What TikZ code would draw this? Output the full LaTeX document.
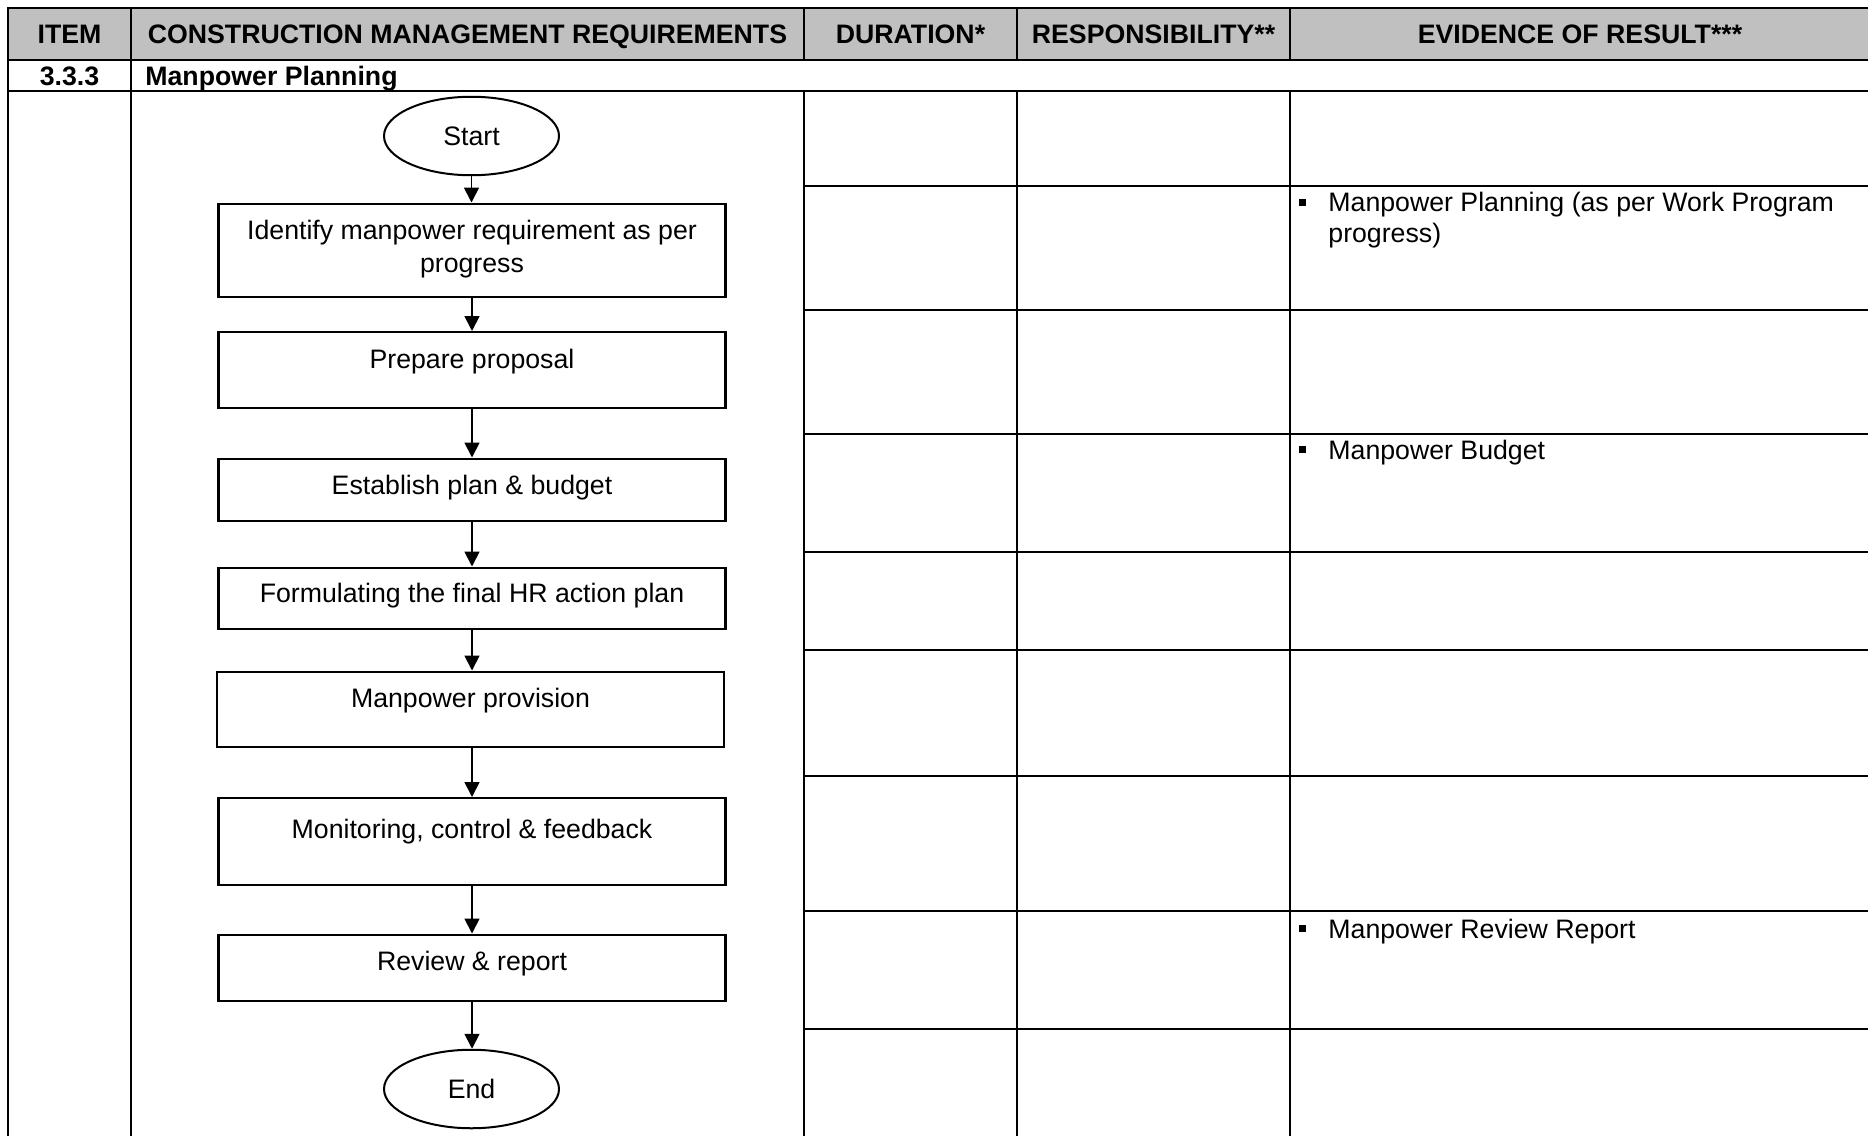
\documentclass[tikz,border=0pt]{standalone}
\usepackage{fontspec}
\setmainfont{Liberation Sans}
\usetikzlibrary{shapes.geometric,arrows.meta}
\definecolor{hdrgray}{HTML}{C0C0C0}
\newcommand{\fs}{\fontsize{13.35pt}{16.5pt}\selectfont}
\newcommand{\fsb}{\fontsize{13.35pt}{16.5pt}\selectfont\bfseries}
\newcommand{\evbul}{\makebox[14.5pt][l]{\raisebox{3pt}{\rule{3.5pt}{3.5pt}}}}
\tikzset{
  tline/.style={line width=1.25pt, line cap=rect},
  flowbox/.style={draw, line width=1.15pt, minimum width=253.5pt, inner xsep=0pt, inner ysep=0pt, anchor=north, font=\fs},
  term/.style={draw, ellipse, line width=1pt, minimum width=87.5pt, minimum height=39.25pt, inner sep=0pt, font=\fs},
  flow/.style={-{Triangle[width=7.5pt,length=7.5pt]}, line width=0.9pt},
  hdr/.style={font=\fsb, anchor=base, inner sep=0pt},
  evid/.style={font=\fs, anchor=base west, inner sep=0pt},
}
\begin{document}
\begin{tikzpicture}[x=0.5pt,y=-0.5pt]
\useasboundingbox (0,0) rectangle (1868,1135);
% header fill
\fill[hdrgray] (8,8) rectangle (1868,60);
% table lines
\draw[tline] (1868,8) -- (8,8) -- (8,1135);
\draw[tline] (8,60) -- (1868,60);
\draw[tline] (8,91) -- (1868,91);
\draw[tline] (131,8) -- (131,1135);
\foreach \cx in {804,1017,1290}{
  \draw[tline] (\cx,8) -- (\cx,60);
  \draw[tline] (\cx,91) -- (\cx,1135);
}
\foreach \ry in {186,310,434,552,650,776,911,1029}{
  \draw[tline] (804,\ry) -- (1868,\ry);
}
% header texts
\node[hdr] (hitem) at (69.5,43.5) {ITEM};
\node[hdr] (hcmr) at (467.5,43.5) {CONSTRUCTION MANAGEMENT REQUIREMENTS};
\node[hdr] (hdur) at (910.5,43.5) {DURATION*};
\node[hdr] (hresp) at (1153.5,43.5) {RESPONSIBILITY**};
\node[hdr] (hevid) at (1580,43.5) {EVIDENCE OF RESULT***};
\node[hdr] (inum) at (69.5,85) {3.3.3};
\node[hdr, anchor=base west] (ititle) at (145,85) {Manpower Planning};
% flowchart
\node[term] (start) at (471.5,136) {Start};
\node[flowbox, text height=18.05pt, text depth=28.45pt] (b1) at (472,202.5)
  {\parbox[t]{245pt}{\centering Identify manpower requirement as per\\ progress}};
\node[flowbox, text height=18.1pt, text depth=19.65pt] (b2) at (472,331) {Prepare proposal};
\node[flowbox, text height=17.8pt, text depth=13.2pt] (b3) at (472,457.5) {Establish plan \& budget};
\node[flowbox, text height=17.55pt, text depth=12.95pt] (b4) at (472,566.5) {Formulating the final HR action plan};
\node[flowbox, text height=18.05pt, text depth=19.7pt] (b5) at (470.5,670.5) {Manpower provision};
\node[flowbox, text height=20.3pt, text depth=23.2pt] (b6) at (472,797) {Monitoring, control \& feedback};
\node[flowbox, text height=18.05pt, text depth=15.2pt] (b7) at (472,933.5) {Review \& report};
\node[term] (end) at (471.5,1089) {End};
\draw[flow] (start.south) -- (start.south |- b1.north);
\draw[flow] (b1.south) -- (b1.south |- b2.north);
\draw[flow] (b2.south) -- (b2.south |- b3.north);
\draw[flow] (b3.south) -- (b3.south |- b4.north);
\draw[flow] (b4.south) -- (b4.south |- b5.north);
\draw[flow] (b5.south -| b6.north) -- (b6.north);
\draw[flow] (b6.south) -- (b6.south |- b7.north);
\draw[flow] (b7.south) -- (b7.south |- end.north);
% evidence texts
\node[evid] (ev1) at (1299,211.5)
  {\parbox[t]{270pt}{\fontsize{13.35pt}{15.5pt}\selectfont\hangindent=14.5pt\hangafter=1\evbul Manpower Planning (as per Work Program\\progress)}};
\node[evid] (ev2) at (1299,459) {\evbul Manpower Budget};
\node[evid] (ev3) at (1299,938) {\evbul Manpower Review Report};
\end{tikzpicture}
\end{document}
